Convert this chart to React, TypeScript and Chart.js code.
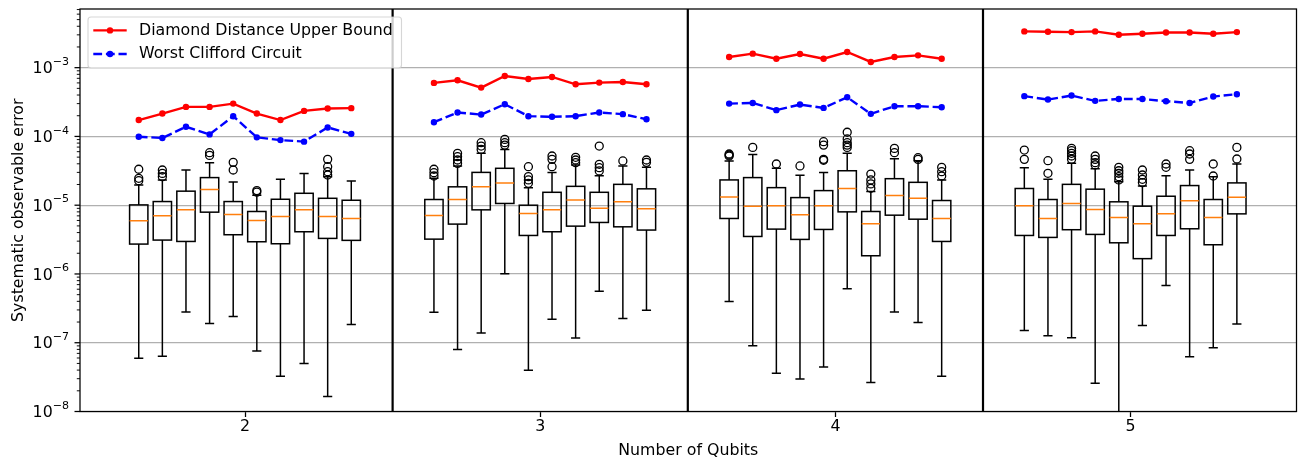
import React, { useEffect, useRef } from 'react';
import { Chart, registerables } from 'chart.js';

Chart.register(...registerables);

// ---------------- data ----------------
const qubitCounts = [2, 3, 4, 5];
const circuitsPerGroup = 10;
const xTickValues = [2, 3, 4, 5];
const yTickValues = [1e-8, 1e-7, 1e-6, 1e-5, 1e-4, 1e-3];
const groupSeparators = [2.5, 3.5, 4.5];

const xLabel = 'Number of Qubits';
const yLabel = 'Systematic observable error';
const upperBoundLabel = 'Diamond Distance Upper Bound';
const worstCliffordLabel = 'Worst Clifford Circuit';

// Diamond distance upper bound (10 circuits per qubit count)
const upperBound = [
  1.73e-4, 2.15e-4, 2.69e-4, 2.69e-4, 3.0e-4, 2.15e-4, 1.73e-4, 2.35e-4, 2.55e-4, 2.58e-4,
  6.0e-4, 6.55e-4, 5.13e-4, 7.57e-4, 6.85e-4, 7.33e-4, 5.73e-4, 6.06e-4, 6.2e-4, 5.73e-4,
  1.43e-3, 1.6e-3, 1.35e-3, 1.58e-3, 1.35e-3, 1.69e-3, 1.21e-3, 1.43e-3, 1.51e-3, 1.35e-3,
  3.37e-3, 3.33e-3, 3.29e-3, 3.37e-3, 3.01e-3, 3.11e-3, 3.25e-3, 3.25e-3, 3.11e-3, 3.29e-3,
];

// Worst Clifford circuit error
const worstClifford = [
  9.9e-5, 9.5e-5, 1.38e-4, 1.07e-4, 1.97e-4, 9.7e-5, 8.85e-5, 8.4e-5, 1.35e-4, 1.09e-4,
  1.61e-4, 2.23e-4, 2.08e-4, 2.94e-4, 1.97e-4, 1.93e-4, 1.97e-4, 2.23e-4, 2.11e-4, 1.78e-4,
  3.0e-4, 3.07e-4, 2.41e-4, 2.91e-4, 2.6e-4, 3.71e-4, 2.13e-4, 2.75e-4, 2.75e-4, 2.66e-4,
  3.85e-4, 3.44e-4, 3.93e-4, 3.29e-4, 3.51e-4, 3.51e-4, 3.25e-4, 3.07e-4, 3.8e-4, 4.11e-4,
];

// Box plot statistics
const whiskerLow = [
  5.93e-8, 6.34e-8, 2.81e-7, 1.9e-7, 2.41e-7, 7.6e-8, 3.25e-8, 5.0e-8, 1.65e-8, 1.84e-7,
  2.78e-7, 8.0e-8, 1.38e-7, 1.01e-6, 3.97e-8, 2.2e-7, 1.17e-7, 5.61e-7, 2.25e-7, 2.97e-7,
  3.97e-7, 9.06e-8, 3.6e-8, 2.97e-8, 4.44e-8, 6.12e-7, 2.63e-8, 2.81e-7, 1.97e-7, 3.25e-8,
  1.51e-7, 1.26e-7, 1.18e-7, 2.58e-8, 5.0e-9, 1.78e-7, 6.78e-7, 6.27e-8, 8.47e-8, 1.88e-7,
];
const quartile1 = [
  2.72e-6, 3.11e-6, 2.97e-6, 7.92e-6, 3.72e-6, 2.94e-6, 2.75e-6, 4.11e-6, 3.29e-6, 3.08e-6,
  3.21e-6, 5.31e-6, 8.56e-6, 1.06e-5, 3.63e-6, 4.11e-6, 4.96e-6, 5.61e-6, 4.85e-6, 4.35e-6,
  6.41e-6, 3.51e-6, 4.49e-6, 3.18e-6, 4.44e-6, 8.0e-6, 1.84e-6, 7.16e-6, 6.26e-6, 2.97e-6,
  3.63e-6, 3.4e-6, 4.4e-6, 3.76e-6, 2.84e-6, 1.67e-6, 3.63e-6, 4.54e-6, 2.66e-6, 7.48e-6,
];
const medians = [
  5.93e-6, 7.0e-6, 8.56e-6, 1.69e-5, 7.33e-6, 6.0e-6, 6.86e-6, 8.56e-6, 6.86e-6, 6.41e-6,
  7.08e-6, 1.21e-5, 1.85e-5, 2.11e-5, 7.57e-6, 8.56e-6, 1.19e-5, 9.05e-6, 1.12e-5, 8.85e-6,
  1.32e-5, 9.68e-6, 9.78e-6, 7.24e-6, 9.78e-6, 1.75e-5, 5.36e-6, 1.38e-5, 1.26e-5, 6.41e-6,
  9.78e-6, 6.41e-6, 1.06e-5, 8.65e-6, 6.62e-6, 5.36e-6, 7.48e-6, 1.16e-5, 6.62e-6, 1.31e-5,
];
const quartile3 = [
  1.01e-5, 1.13e-5, 1.6e-5, 2.52e-5, 1.13e-5, 8.1e-6, 1.22e-5, 1.49e-5, 1.26e-5, 1.18e-5,
  1.21e-5, 1.85e-5, 3.0e-5, 3.44e-5, 1.0e-5, 1.54e-5, 1.88e-5, 1.54e-5, 2.01e-5, 1.73e-5,
  2.33e-5, 2.52e-5, 1.8e-5, 1.29e-5, 1.63e-5, 3.17e-5, 8.1e-6, 2.43e-5, 2.15e-5, 1.17e-5,
  1.75e-5, 1.21e-5, 2.01e-5, 1.71e-5, 1.12e-5, 9.68e-6, 1.35e-5, 1.93e-5, 1.21e-5, 2.11e-5,
];
const whiskerHigh = [
  1.97e-5, 2.33e-5, 3.25e-5, 4.15e-5, 2.18e-5, 1.4e-5, 2.38e-5, 2.88e-5, 2.6e-5, 2.25e-5,
  2.46e-5, 3.72e-5, 5.68e-5, 6.48e-5, 1.8e-5, 3.0e-5, 3.85e-5, 2.69e-5, 3.72e-5, 3.56e-5,
  4.4e-5, 5.48e-5, 3.44e-5, 2.72e-5, 3.0e-5, 5.68e-5, 1.58e-5, 4.74e-5, 4.44e-5, 2.33e-5,
  3.51e-5, 2.38e-5, 4.06e-5, 3.4e-5, 2.2e-5, 1.9e-5, 2.69e-5, 3.25e-5, 2.6e-5, 3.97e-5,
];
const outliers: number[][] = [
  [3.33e-5, 2.46e-5, 2.27e-5], [3.25e-5, 2.9e-5, 2.6e-5], [], [5.8e-5, 5.3e-5], [4.2e-5, 3.25e-5],
  [1.63e-5, 1.55e-5], [], [], [4.64e-5, 3.63e-5, 3.07e-5, 2.75e-5], [],
  [3.33e-5, 2.97e-5, 2.66e-5], [5.68e-5, 5.07e-5, 4.54e-5, 4.06e-5], [8.1e-5, 7.24e-5, 6.48e-5],
  [9.06e-5, 8.1e-5, 7.48e-5], [3.63e-5, 2.6e-5, 2.33e-5, 2.08e-5], [5.19e-5, 4.64e-5, 3.63e-5],
  [4.97e-5, 4.54e-5, 4.15e-5], [7.24e-5, 3.93e-5, 3.51e-5, 3.15e-5], [4.4e-5], [4.54e-5, 4.2e-5],
  [5.55e-5, 5.19e-5, 5.37e-5], [6.93e-5], [3.97e-5], [3.72e-5], [8.38e-5, 7.48e-5, 4.64e-5, 4.5e-5],
  [1.15e-4, 9.2e-5, 8.1e-5, 7.48e-5, 6.93e-5], [2.84e-5, 2.33e-5, 2.04e-5, 1.76e-5], [6.7e-5, 5.8e-5],
  [4.91e-5, 4.64e-5], [3.56e-5, 3.07e-5, 2.66e-5],
  [6.34e-5, 4.64e-5], [4.44e-5, 2.91e-5], [6.7e-5, 6.2e-5, 5.68e-5, 5.19e-5, 4.64e-5],
  [5.19e-5, 4.64e-5, 4.15e-5, 3.85e-5], [3.56e-5, 3.17e-5, 2.91e-5, 2.6e-5, 2.33e-5],
  [3.25e-5, 2.75e-5, 2.38e-5, 2.13e-5], [3.97e-5, 3.56e-5], [6.2e-5, 5.55e-5, 4.64e-5],
  [3.97e-5, 2.66e-5], [6.93e-5, 4.7e-5],
];

// ---------------- layout / style ----------------
const X_MIN = 1.441;
const X_MAX = 5.562;
const Y_MIN = 1e-8;
const Y_MAX = 7.13e-3;
const BOX_SPACING = 0.08;
const BOX_WIDTH = 0.062;
const FONT = 'DejaVu Sans';
const FS = 15.8;

function boxPosition(idx: number) {
  const g = Math.floor(idx / circuitsPerGroup);
  const i = idx % circuitsPerGroup;
  return qubitCounts[g] + (i - (circuitsPerGroup - 1) / 2) * BOX_SPACING;
}

function seriesPoints(values: number[]) {
  const pts: { x: number; y: number | null }[] = [];
  values.forEach((v, idx) => {
    if (idx > 0 && idx % circuitsPerGroup === 0) {
      pts.push({ x: qubitCounts[idx / circuitsPerGroup] - 0.5, y: null });
    }
    pts.push({ x: boxPosition(idx), y: v });
  });
  return pts;
}

const boxPlugin = {
  id: 'boxes',
  beforeDatasetsDraw(chart: any) {
    const { ctx, chartArea: ca, scales } = chart;
    const x = scales.x;
    const y = scales.y;
    ctx.save();
    ctx.beginPath();
    ctx.rect(ca.left, ca.top, ca.right - ca.left, ca.bottom - ca.top);
    ctx.clip();

    // group separators
    ctx.strokeStyle = '#000';
    ctx.lineWidth = 2.2;
    groupSeparators.forEach((s) => {
      const px = x.getPixelForValue(s);
      ctx.beginPath();
      ctx.moveTo(px, ca.top);
      ctx.lineTo(px, ca.bottom);
      ctx.stroke();
    });

    for (let idx = 0; idx < medians.length; idx++) {
      const pos = boxPosition(idx);
      const xc = x.getPixelForValue(pos);
      const xl = x.getPixelForValue(pos - BOX_WIDTH / 2);
      const xr = x.getPixelForValue(pos + BOX_WIDTH / 2);
      const cl = x.getPixelForValue(pos - BOX_WIDTH / 4);
      const cr = x.getPixelForValue(pos + BOX_WIDTH / 4);
      const yLo = y.getPixelForValue(whiskerLow[idx]);
      const yQ1 = y.getPixelForValue(quartile1[idx]);
      const yMed = y.getPixelForValue(medians[idx]);
      const yQ3 = y.getPixelForValue(quartile3[idx]);
      const yHi = y.getPixelForValue(whiskerHigh[idx]);

      ctx.strokeStyle = '#000';
      ctx.lineWidth = 1.5;
      ctx.setLineDash([]);
      // box
      ctx.strokeRect(xl, yQ3, xr - xl, yQ1 - yQ3);
      // whiskers
      ctx.beginPath();
      ctx.moveTo(xc, yQ1);
      ctx.lineTo(xc, yLo);
      ctx.moveTo(xc, yQ3);
      ctx.lineTo(xc, yHi);
      // caps
      ctx.moveTo(cl, yLo);
      ctx.lineTo(cr, yLo);
      ctx.moveTo(cl, yHi);
      ctx.lineTo(cr, yHi);
      ctx.stroke();
      // median
      ctx.strokeStyle = '#ff7f0e';
      ctx.beginPath();
      ctx.moveTo(xl, yMed);
      ctx.lineTo(xr, yMed);
      ctx.stroke();
      // fliers
      ctx.strokeStyle = '#000';
      ctx.lineWidth = 1.3;
      outliers[idx].forEach((o) => {
        const py = y.getPixelForValue(o);
        ctx.beginPath();
        ctx.arc(xc, py, 4, 0, Math.PI * 2);
        ctx.stroke();
      });
    }
    ctx.restore();
  },
  afterDatasetsDraw(chart: any) {
    const { ctx, chartArea: ca, scales } = chart;
    const y = scales.y;
    ctx.save();
    // frame
    ctx.strokeStyle = '#000';
    ctx.lineWidth = 1.26;
    ctx.strokeRect(ca.left, ca.top, ca.right - ca.left, ca.bottom - ca.top);

    // y ticks: major and minor
    const expLo = Math.round(Math.log10(Y_MIN));
    const expHi = Math.ceil(Math.log10(Y_MAX));
    for (let e = expLo; e < expHi; e++) {
      for (let m = 2; m <= 9; m++) {
        const v = m * Math.pow(10, e);
        if (v > Y_MAX) continue;
        const py = y.getPixelForValue(v);
        ctx.lineWidth = 0.95;
        ctx.beginPath();
        ctx.moveTo(ca.left, py);
        ctx.lineTo(ca.left - 3.2, py);
        ctx.stroke();
      }
    }
    const bigFont = `${FS}px "${FONT}"`;
    const smallFont = `${FS * 0.7}px "${FONT}"`;
    ctx.fillStyle = '#000';
    ctx.textAlign = 'left';
    ctx.textBaseline = 'alphabetic';
    yTickValues.forEach((v) => {
      const py = y.getPixelForValue(v);
      ctx.lineWidth = 1.26;
      ctx.beginPath();
      ctx.moveTo(ca.left, py);
      ctx.lineTo(ca.left - 5.5, py);
      ctx.stroke();
      const e = Math.round(Math.log10(v));
      const expStr = (e < 0 ? '\u2212' : '') + Math.abs(e);
      ctx.font = smallFont;
      const ew = ctx.measureText(expStr).width;
      ctx.font = bigFont;
      const bw = ctx.measureText('10').width;
      const right = ca.left - 11;
      const base = py + 5.7;
      ctx.fillText('10', right - ew - bw, base);
      ctx.font = smallFont;
      ctx.fillText(expStr, right - ew, base - 8.5);
    });

    // legend
    const lx = 88, ly = 17, lw = 313.5, lh = 51;
    ctx.beginPath();
    ctx.roundRect(lx, ly, lw, lh, 3);
    ctx.fillStyle = 'rgba(255,255,255,0.8)';
    ctx.fill();
    ctx.strokeStyle = 'rgba(204,204,204,0.8)';
    ctx.lineWidth = 1.1;
    ctx.stroke();
    const rows = [30.4, 54];
    chart.data.datasets.forEach((ds: any, i: number) => {
      const ry = rows[i];
      ctx.strokeStyle = ds.borderColor;
      ctx.lineWidth = ds.borderWidth;
      ctx.setLineDash(ds.borderDash || []);
      ctx.beginPath();
      ctx.moveTo(93.3, ry);
      ctx.lineTo(126.7, ry);
      ctx.stroke();
      ctx.setLineDash([]);
      ctx.beginPath();
      ctx.arc(110, ry, ds.pointRadius + ds.pointBorderWidth / 2, 0, Math.PI * 2);
      ctx.fillStyle = ds.borderColor;
      ctx.fill();
      ctx.fillStyle = '#000';
      ctx.font = bigFont;
      ctx.textAlign = 'left';
      ctx.textBaseline = 'middle';
      ctx.fillText(ds.label, 139, ry);
    });
    ctx.restore();
  },
};

export default function App() {
  const ref = useRef<HTMLCanvasElement | null>(null);
  useEffect(() => {
    if (!ref.current) return;
    const chart = new Chart(ref.current, {
      type: 'line',
      data: {
        datasets: [
          {
            label: upperBoundLabel,
            data: seriesPoints(upperBound) as any,
            borderColor: '#ff0000',
            backgroundColor: '#ff0000',
            borderWidth: 2.4,
            pointRadius: 2.4,
            pointBorderWidth: 1.6,
            pointBackgroundColor: '#ff0000',
            pointBorderColor: '#ff0000',
            tension: 0,
            spanGaps: false,
          },
          {
            label: worstCliffordLabel,
            data: seriesPoints(worstClifford) as any,
            borderColor: '#0000ff',
            backgroundColor: '#0000ff',
            borderWidth: 2.4,
            borderDash: [8.8, 3.8],
            pointRadius: 2.4,
            pointBorderWidth: 1.6,
            pointBackgroundColor: '#0000ff',
            pointBorderColor: '#0000ff',
            tension: 0,
            spanGaps: false,
          },
        ],
      },
      options: {
        animation: false,
        responsive: false,
        devicePixelRatio: 1,
        events: [],
        layout: { padding: { top: 9, right: 1.5, left: 0, bottom: 0 }, autoPadding: false },
        plugins: { legend: { display: false }, tooltip: { enabled: false } },
        scales: {
          x: {
            type: 'linear',
            min: X_MIN,
            max: X_MAX,
            afterBuildTicks: (s: any) => {
              s.ticks = xTickValues.map((v) => ({ value: v }));
            },
            afterFit: (s: any) => {
              s.height = 48.5;
            },
            border: { display: false },
            grid: {
              display: true,
              drawOnChartArea: false,
              drawTicks: true,
              tickLength: 5.5,
              tickWidth: 1.26,
              tickColor: '#000',
            },
            ticks: {
              color: '#000',
              font: { family: FONT, size: FS },
              padding: 0,
              maxRotation: 0,
              autoSkip: false,
            },
            title: {
              display: true,
              text: xLabel,
              color: '#000',
              font: { family: FONT, size: FS },
              padding: { top: 0, bottom: 0 },
            },
          },
          y: {
            type: 'logarithmic',
            min: Y_MIN,
            max: Y_MAX,
            afterBuildTicks: (s: any) => {
              s.ticks = yTickValues.map((v) => ({ value: v, major: true }));
            },
            afterFit: (s: any) => {
              s.width = 80;
            },
            border: { display: false },
            grid: {
              color: '#b0b0b0',
              lineWidth: 1.26,
              drawTicks: false,
            },
            ticks: { display: false },
            title: {
              display: true,
              text: yLabel,
              color: '#000',
              font: { family: FONT, size: FS },
              padding: { top: 9, bottom: 0 },
            },
          },
        },
      } as any,
      plugins: [boxPlugin],
    });
    return () => chart.destroy();
  }, []);

  return (
    <div style={{ position: 'absolute', left: 0, top: 0, width: 1298, height: 460, background: '#fff' }}>
      <canvas ref={ref} width={1298} height={460} style={{ display: 'block', width: 1298, height: 460 }} />
    </div>
  );
}
